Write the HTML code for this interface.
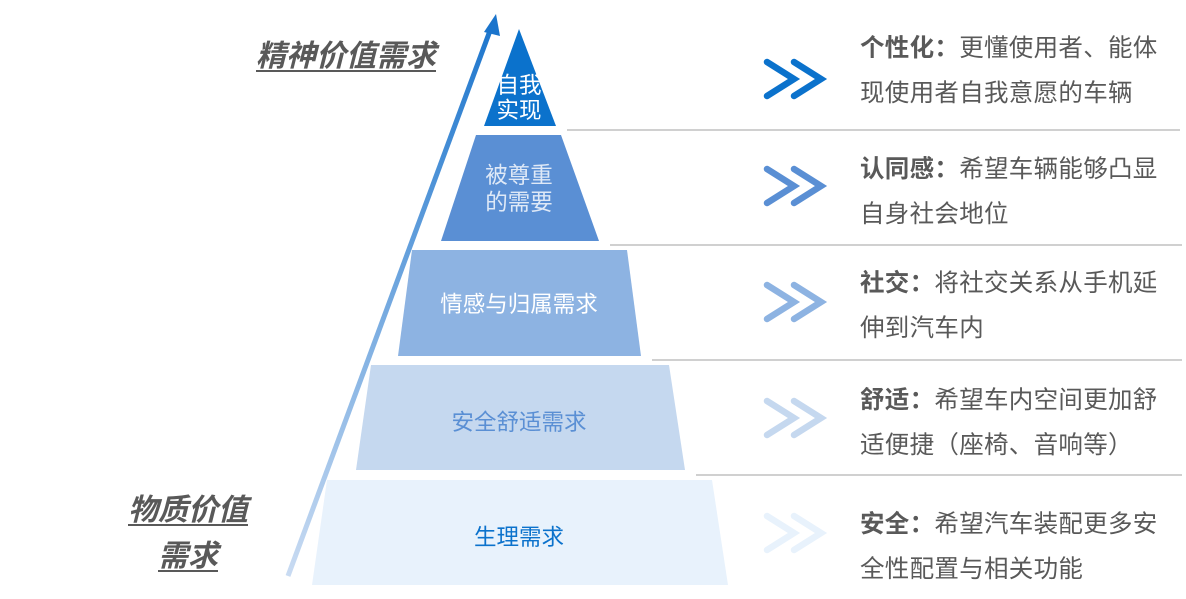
<!DOCTYPE html>
<html><head><meta charset="utf-8"><style>
body{margin:0;width:1186px;height:599px;background:#fff;overflow:hidden;position:relative;font-family:"Liberation Sans","Noto Sans CJK SC",sans-serif}
.t{position:absolute;left:860px;font-size:24.5px;color:#595959;line-height:45px;width:320px;letter-spacing:0.3px}
.t b{color:#595959}
.lab{position:absolute;font-size:30px;font-weight:bold;font-style:italic;color:#595959;text-decoration:underline;text-decoration-thickness:2px;text-underline-offset:4px;line-height:46px;text-align:center}
</style></head><body>
<svg width="1186" height="599" style="position:absolute;left:0;top:0">
<defs><linearGradient id="g" x1="288" y1="575" x2="495" y2="15" gradientUnits="userSpaceOnUse"><stop offset="0" stop-color="#c9dbf2"/><stop offset="1" stop-color="#1a74cc"/></linearGradient></defs>
<line x1="288" y1="576" x2="491" y2="28" stroke="url(#g)" stroke-width="5"/>
<polygon points="496,14 484,32 500,36" fill="#1a74cc"/>
<polygon points="519,29 556,126 484,126" fill="#0b72cc"/>
<polygon points="476,135 561,135 599,241 441,241" fill="#5a8fd4"/>
<polygon points="412,250 627,250 641,356 398,356" fill="#8db3e2"/>
<polygon points="371,365 669,365 685,470 356,470" fill="#c5d8ef"/>
<polygon points="327,480 712,480 728,585 312,585" fill="#e8f2fc"/>
<g stroke="#c0c0c0" stroke-width="1.5">
<line x1="567" y1="130" x2="1180" y2="130"/><line x1="610" y1="245" x2="1182" y2="245"/>
<line x1="652" y1="360" x2="1182" y2="360"/><line x1="696" y1="475" x2="1182" y2="475"/></g>
<g fill="none" stroke-width="6.5" stroke-linecap="round" stroke-linejoin="miter">
<g stroke="#0b72cc"><polyline points="767,62 794,79 767,96"/><polyline points="794,62 821,79 794,96"/></g>
<g stroke="#5a8fd4"><polyline points="767,169 794,186 767,203"/><polyline points="794,169 821,186 794,203"/></g>
<g stroke="#8db3e2"><polyline points="767,285 794,302 767,319"/><polyline points="794,285 821,302 794,319"/></g>
<g stroke="#c5d8ef"><polyline points="767,401 794,418 767,435"/><polyline points="794,401 821,418 794,435"/></g>
<g stroke="#e8f2fc"><polyline points="767,516 794,533 767,550"/><polyline points="794,516 821,533 794,550"/></g>
</g>
<g font-family="Liberation Sans, Noto Sans CJK SC, sans-serif" font-size="22.5" text-anchor="middle">
<text x="519" y="93" fill="#fff">自我</text><text x="519" y="118" fill="#fff">实现</text>
<text x="519" y="183" fill="#dfe9f7">被尊重</text><text x="519" y="210" fill="#dfe9f7">的需要</text>
<text x="519" y="312" fill="#fff">情感与归属需求</text>
<text x="519" y="430" fill="#5a8fd4">安全舒适需求</text>
<text x="519" y="545" fill="#0b72cc">生理需求</text>
</g>
</svg>
<div class="lab" style="left:256px;top:34px">精神价值需求</div>
<div class="lab" style="left:118px;top:488px;width:140px">物质价值<br>需求</div>
<div class="t" style="top:26px"><b>个性化：</b>更懂使用者、能体现使用者自我意愿的车辆</div>
<div class="t" style="top:147px"><b>认同感：</b>希望车辆能够凸显自身社会地位</div>
<div class="t" style="top:261px"><b>社交：</b>将社交关系从手机延伸到汽车内</div>
<div class="t" style="top:378px"><b>舒适：</b>希望车内空间更加舒适便捷（座椅、音响等）</div>
<div class="t" style="top:502px"><b>安全：</b>希望汽车装配更多安全性配置与相关功能</div>
</body></html>
